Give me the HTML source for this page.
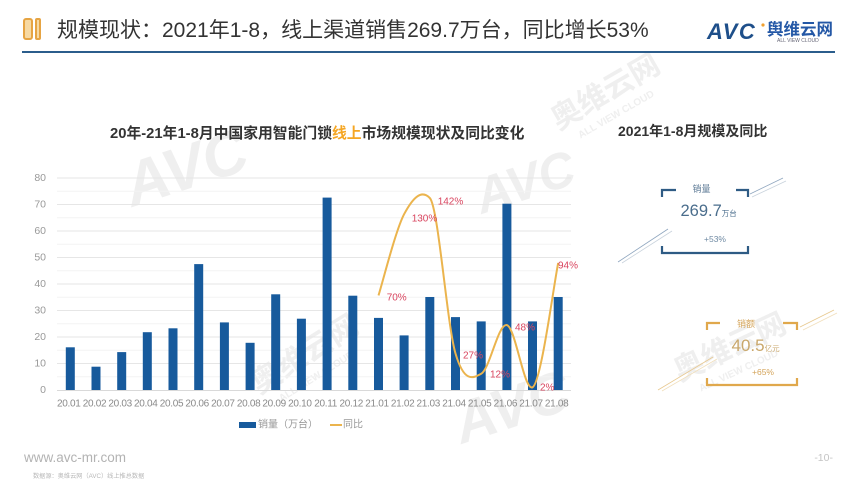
<!DOCTYPE html>
<html>
<head>
<meta charset="utf-8">
<style>
html,body{margin:0;padding:0;background:#fff;}
body{width:858px;height:483px;overflow:hidden;}
svg{display:block;}
text{font-family:"Liberation Sans","Noto Sans CJK SC",sans-serif;}
</style>
</head>
<body>
<svg width="858" height="483" viewBox="0 0 858 483" xmlns="http://www.w3.org/2000/svg">
  <rect width="858" height="483" fill="#fff"/>

  <!-- watermarks -->
  <g fill="#efefef" font-weight="bold">
    <text x="120" y="190" font-size="62" transform="rotate(-18 180 160)" font-style="italic">AVC</text>
    <text x="450" y="430" font-size="58" transform="rotate(-18 500 400)" font-style="italic">AVC</text>
    <text x="470" y="200" font-size="50" transform="rotate(-18 520 170)" font-style="italic">AVC</text>
    <text x="545" y="110" font-size="30" transform="rotate(-30 590 95)">奥维云网</text>
    <text x="560" y="128" font-size="10" transform="rotate(-30 590 95)">ALL VIEW CLOUD</text>
    <text x="235" y="370" font-size="30" transform="rotate(-32 290 340)">奥维云网</text>
    <text x="250" y="388" font-size="10" transform="rotate(-32 290 340)">ALL VIEW CLOUD</text>
    <text x="665" y="365" font-size="30" transform="rotate(-25 710 340)">奥维云网</text>
    <text x="680" y="383" font-size="10" transform="rotate(-25 710 340)">ALL VIEW CLOUD</text>
  </g>

  <!-- header icon "01" -->
  <rect x="24" y="19" width="8" height="20" rx="2" fill="#f7d9a2" stroke="#e6a443" stroke-width="2"/>
  <rect x="36" y="19" width="4" height="20" rx="1" fill="#f7d9a2" stroke="#e6a443" stroke-width="2"/>

  <!-- header title -->
  <text x="57" y="37" font-size="21" fill="#333">规模现状：2021年1-8，线上渠道销售269.7万台，同比增长53%</text>

  <!-- header line -->
  <rect x="22" y="51" width="813" height="2" fill="#2b5d8c"/>

  <!-- AVC logo -->
  <text x="707" y="39" font-size="22" font-weight="bold" font-style="italic" fill="#1e4f8a" letter-spacing="1.5">AVC</text>
  <circle cx="763" cy="25" r="1.6" fill="#f0a030"/>
  <text x="767" y="35" font-size="16.5" font-weight="bold" fill="#2458a6">舆维云网</text>
  <text x="777" y="42" font-size="5" fill="#667">ALL VIEW CLOUD</text>

  <!-- chart title -->
  <text x="110" y="138" font-size="14.8" font-weight="bold" fill="#333">20年-21年1-8月中国家用智能门锁<tspan fill="#f5a623">线上</tspan>市场规模现状及同比变化</text>

  <!-- gridlines -->
  <g stroke="#f3f3f3" stroke-width="1">
    <line x1="57" x2="571" y1="376.75" y2="376.75"/>
    <line x1="57" x2="571" y1="350.25" y2="350.25"/>
    <line x1="57" x2="571" y1="323.75" y2="323.75"/>
    <line x1="57" x2="571" y1="297.25" y2="297.25"/>
    <line x1="57" x2="571" y1="270.75" y2="270.75"/>
    <line x1="57" x2="571" y1="244.25" y2="244.25"/>
    <line x1="57" x2="571" y1="217.75" y2="217.75"/>
    <line x1="57" x2="571" y1="191.25" y2="191.25"/>
  </g>
  <g stroke="#e6e6e6" stroke-width="1">
    <line x1="57" x2="571" y1="363.5" y2="363.5"/>
    <line x1="57" x2="571" y1="337" y2="337"/>
    <line x1="57" x2="571" y1="310.5" y2="310.5"/>
    <line x1="57" x2="571" y1="284" y2="284"/>
    <line x1="57" x2="571" y1="257.5" y2="257.5"/>
    <line x1="57" x2="571" y1="231" y2="231"/>
    <line x1="57" x2="571" y1="204.5" y2="204.5"/>
    <line x1="57" x2="571" y1="178" y2="178"/>
  </g>
  <line x1="57" x2="571" y1="390.5" y2="390.5" stroke="#d9d9d9" stroke-width="1"/>

  <!-- y labels -->
  <g font-size="10.5" fill="#999" text-anchor="end" dominant-baseline="central">
    <text x="46" y="390">0</text>
    <text x="46" y="363.5">10</text>
    <text x="46" y="337">20</text>
    <text x="46" y="310.5">30</text>
    <text x="46" y="284">40</text>
    <text x="46" y="257.5">50</text>
    <text x="46" y="231">60</text>
    <text x="46" y="204.5">70</text>
    <text x="46" y="178">80</text>
  </g>

  <!-- bars -->
  <g fill="#175a9c">
    <rect x="65.8" y="347.3" width="9" height="42.7"/>
    <rect x="91.5" y="366.7" width="9" height="23.3"/>
    <rect x="117.2" y="352.1" width="9" height="37.9"/>
    <rect x="142.8" y="332.2" width="9" height="57.8"/>
    <rect x="168.5" y="328.3" width="9" height="61.7"/>
    <rect x="194.2" y="264.1" width="9" height="125.9"/>
    <rect x="219.9" y="322.4" width="9" height="67.6"/>
    <rect x="245.6" y="342.8" width="9" height="47.2"/>
    <rect x="271.2" y="294.3" width="9" height="95.7"/>
    <rect x="296.9" y="318.7" width="9" height="71.3"/>
    <rect x="322.6" y="197.6" width="9" height="192.4"/>
    <rect x="348.3" y="295.7" width="9" height="94.3"/>
    <rect x="374.0" y="317.9" width="9" height="72.1"/>
    <rect x="399.6" y="335.4" width="9" height="54.6"/>
    <rect x="425.3" y="297.0" width="9" height="93.0"/>
    <rect x="451.0" y="317.1" width="9" height="72.9"/>
    <rect x="476.7" y="321.4" width="9" height="68.6"/>
    <rect x="502.4" y="203.7" width="9" height="186.3"/>
    <rect x="528.0" y="321.4" width="9" height="68.6"/>
    <rect x="553.7" y="297.0" width="9" height="93.0"/>
  </g>

  <!-- x labels -->
  <g font-size="10" fill="#8a8a8a" text-anchor="middle" dominant-baseline="central" letter-spacing="-0.3">
    <text x="68.8" y="404">20.01</text>
    <text x="94.5" y="404">20.02</text>
    <text x="120.2" y="404">20.03</text>
    <text x="145.8" y="404">20.04</text>
    <text x="171.5" y="404">20.05</text>
    <text x="197.2" y="404">20.06</text>
    <text x="222.9" y="404">20.07</text>
    <text x="248.6" y="404">20.08</text>
    <text x="274.2" y="404">20.09</text>
    <text x="299.9" y="404">20.10</text>
    <text x="325.6" y="404">20.11</text>
    <text x="351.3" y="404">20.12</text>
    <text x="377.0" y="404">21.01</text>
    <text x="402.6" y="404">21.02</text>
    <text x="428.3" y="404">21.03</text>
    <text x="454.0" y="404">21.04</text>
    <text x="479.7" y="404">21.05</text>
    <text x="505.4" y="404">21.06</text>
    <text x="531.0" y="404">21.07</text>
    <text x="556.7" y="404">21.08</text>
  </g>

  <!-- YoY line -->
  <path d="M378.5,295.4 C382.8,281.9 395.6,230.4 404.1,214.2 C412.7,198.0 421.2,189 429.8,198.0 C438.4,207 446.9,324.2 455.5,353.5 C464.1,382.8 472.6,378.5 481.2,373.8 C489.8,369.1 498.3,322.85 506.9,325.1 C515.5,327.35 524,391 532.5,387.3 C541,383.6 553.9,283.6 558.2,262.9"
        fill="none" stroke="#ebb44d" stroke-width="2"/>

  <!-- YoY labels -->
  <g font-size="10" fill="#d9455f" dominant-baseline="central">
    <text x="386.7" y="298">70%</text>
    <text x="411.7" y="219">130%</text>
    <text x="437.7" y="202">142%</text>
    <text x="463" y="356">27%</text>
    <text x="490" y="375">12%</text>
    <text x="515" y="328">48%</text>
    <text x="540" y="388">2%</text>
    <text x="558" y="266">94%</text>
  </g>

  <!-- legend -->
  <rect x="239" y="422" width="17" height="6" fill="#175a9c"/>
  <text x="258" y="425" font-size="10" fill="#999" dominant-baseline="central">销量（万台）</text>
  <line x1="330" x2="342" y1="425" y2="425" stroke="#ebb44d" stroke-width="2"/>
  <text x="343" y="425" font-size="10" fill="#999" dominant-baseline="central">同比</text>

  <!-- right panel -->
  <text x="618" y="136" font-size="14" font-weight="bold" fill="#333">2021年1-8月规模及同比</text>

  <!-- blue card -->
  <g fill="none" stroke="#2e5b84" stroke-width="2.2">
    <polyline points="662,197 662,190 676,190"/>
    <polyline points="736,190 748,190 748,197"/>
    <polyline points="662,246 662,253 748,253 748,246"/>
  </g>
  <line x1="750" y1="194" x2="783" y2="178" stroke="#8fa6bf" stroke-width="0.8"/>
  <line x1="752" y1="197" x2="786" y2="181" stroke="#c8d2dc" stroke-width="0.8"/>
  <line x1="618" y1="262" x2="668" y2="229" stroke="#8fa6bf" stroke-width="0.8"/>
  <line x1="622" y1="263" x2="672" y2="231" stroke="#c8d2dc" stroke-width="0.8"/>
  <text x="701.5" y="189" font-size="9" fill="#5b7894" text-anchor="middle" dominant-baseline="central">销量</text>
  <text x="680.5" y="216" font-size="16.5" fill="#4a6d8c">269.7<tspan font-size="7.5">万台</tspan></text>
  <text x="715" y="239" font-size="8.5" fill="#6f8aa3" text-anchor="middle" dominant-baseline="central">+53%</text>

  <!-- gold card -->
  <g fill="none" stroke="#e0a84c" stroke-width="2.2">
    <polyline points="707,330 707,323 720,323"/>
    <polyline points="783,323 797,323 797,330"/>
    <polyline points="707,378 707,385 797,385 797,378"/>
  </g>
  <line x1="800" y1="327" x2="834" y2="310" stroke="#e8c88f" stroke-width="0.8"/>
  <line x1="803" y1="330" x2="837" y2="313" stroke="#f1dfbc" stroke-width="0.8"/>
  <line x1="658" y1="390" x2="713" y2="357" stroke="#e8c88f" stroke-width="0.8"/>
  <line x1="662" y1="391" x2="717" y2="359" stroke="#f1dfbc" stroke-width="0.8"/>
  <text x="746" y="324" font-size="9" fill="#d4a45a" text-anchor="middle" dominant-baseline="central">销额</text>
  <text x="731.5" y="351" font-size="17" fill="#c9a76b">40.5<tspan font-size="7.5">亿元</tspan></text>
  <text x="763" y="372" font-size="8.5" fill="#d4a45a" text-anchor="middle" dominant-baseline="central">+65%</text>

  <!-- footer -->
  <text x="24" y="462" font-size="13.5" fill="#b3b3b3">www.avc-mr.com</text>
  <text x="33" y="478" font-size="6.2" fill="#b8b8b8">数据源：奥维云网（AVC）线上推总数据</text>
  <text x="833" y="461" font-size="10.5" fill="#c4c4c4" text-anchor="end">-10-</text>
</svg>
</body>
</html>
